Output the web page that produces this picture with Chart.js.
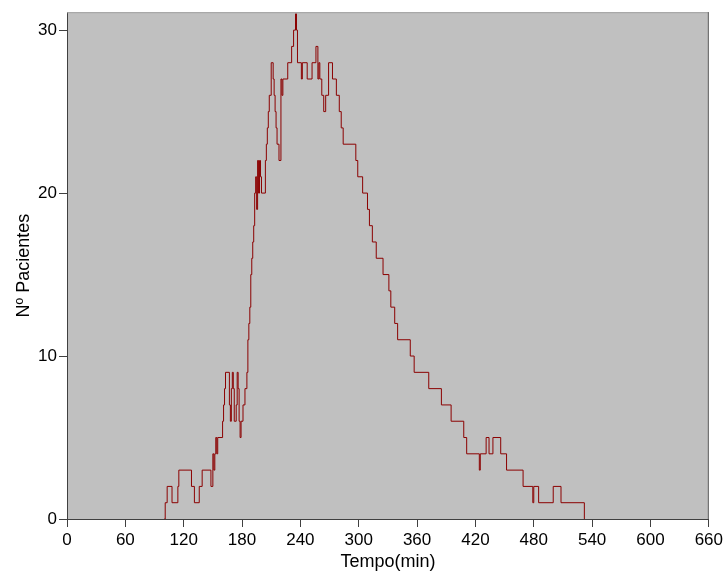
<!DOCTYPE html>
<html>
<head>
<meta charset="utf-8">
<script src="https://cdn.jsdelivr.net/npm/chart.js@4/dist/chart.umd.min.js"></script>
<style>
	html, body { margin: 0; padding: 0; background: #fff; }
	#wrap { width: 726px; height: 571px; }
</style>
</head>
<body>
<div id="wrap"><canvas id="chart"></canvas></div>
<script>
// tempo (min) em que o nº de pacientes muda, e o valor a partir desse instante
const tempo = [100,101,103,108,114,115,128,131,136,139,148,150,151,152,153,154,155,160,161,162,163,167,168,169,170,171,172,174,175,176,177,178,179,181,183,185,186,187,188,189,190,191,192,193,194,195,196,197,198,199,200,204,205,206,207,208,210,212,213,214,215,216,218,220,221,222,227,231,233,235,236,237,241,242,247,252,256,258,259,260,262,264,266,269,273,277,280,282,284,297,299,304,309,311,314,318,325,331,333,337,340,353,357,372,385,395,408,411,424,425,431,434,438,446,452,469,479,480,485,500,508,532]
const pacientes = [0,1,2,1,2,3,2,1,2,3,2,4,3,4,5,4,5,6,7,8,9,7,6,8,9,8,6,7,9,8,6,5,6,7,8,9,11,12,13,15,16,17,18,20,21,19,22,20,22,21,20,22,23,24,25,26,28,27,26,25,24,23,22,27,26,27,28,29,30,31,30,28,27,28,27,28,29,27,28,27,26,25,26,28,27,26,25,24,23,22,21,20,19,18,17,16,15,14,13,12,11,10,9,8,7,6,5,4,3,4,5,4,5,4,3,2,1,2,1,2,1,0]

const xTicks = [0,60,120,180,240,300,360,420,480,540,600,660]
const yTicks = [0,10,20,30]
const xTitle = "Tempo(min)"
const yTitle = "Nº Pacientes"

const View = {
	points(){
		return tempo.map((t, i) => ({ x: t, y: pacientes[i] }))
	},
	plotBg: {
		id: 'plotBg',
		beforeDraw(chart){
			const a = chart.chartArea
			const ctx = chart.ctx
			ctx.save()
			ctx.fillStyle = '#c0c0c0'
			ctx.fillRect(a.left, a.top, a.right - a.left, a.bottom - a.top)
			ctx.restore()
		},
		afterDraw(chart){
			const a = chart.chartArea
			const ctx = chart.ctx
			ctx.save()
			ctx.lineWidth = 1
			ctx.strokeStyle = '#a0a0a0'
			ctx.beginPath()
			ctx.moveTo(a.left, a.top + 0.5)
			ctx.lineTo(a.right, a.top + 0.5)
			ctx.stroke()
			ctx.strokeStyle = '#606060'
			ctx.beginPath()
			ctx.moveTo(a.right - 0.5, a.top)
			ctx.lineTo(a.right - 0.5, a.bottom)
			ctx.stroke()
			ctx.restore()
		}
	},
	draw(){
		const family = "'Liberation Sans', Arial, sans-serif"
		const tickFont = { family: family, size: 17 }
		const titleFont = { family: family, size: 18 }
		new Chart(document.getElementById('chart'), {
			type: 'line',
			data: {
				datasets: [{
					data: View.points(),
					borderColor: '#8b0000',
					borderWidth: 1,
					pointRadius: 0,
					stepped: true,
					fill: false
				}]
			},
			options: {
				responsive: true,
				maintainAspectRatio: false,
				animation: false,
				layout: { padding: { top: 12, right: 16, left: 0, bottom: 0 } },
				plugins: { legend: { display: false }, tooltip: { enabled: false } },
				scales: {
					x: {
						type: 'linear',
						min: 0,
						max: 660,
						afterBuildTicks(scale){ scale.ticks = xTicks.map(v => ({ value: v })) },
						afterFit(scale){ scale.height = 52 },
						ticks: { color: '#000', font: tickFont, padding: 3, maxRotation: 0 },
						grid: { drawOnChartArea: false, tickLength: 8, color: '#404040' },
						border: { color: '#404040', width: 1 },
						title: { display: true, text: xTitle, color: '#000', font: titleFont, padding: { top: 0, bottom: -2 } }
					},
					y: {
						min: 0,
						max: 31.1,
						afterBuildTicks(scale){ scale.ticks = yTicks.map(v => ({ value: v })) },
						afterFit(scale){ scale.width = 67 },
						ticks: { color: '#000', font: tickFont, padding: 2 },
						grid: { drawOnChartArea: false, tickLength: 8, color: '#404040' },
						border: { color: '#404040', width: 1 },
						title: { display: true, text: yTitle, color: '#000', font: titleFont, padding: { top: 13, bottom: 0 } }
					}
				}
			},
			plugins: [View.plotBg]
		})
	}
};
(() => {
	View.draw()
})();
</script>
</body>
</html>
